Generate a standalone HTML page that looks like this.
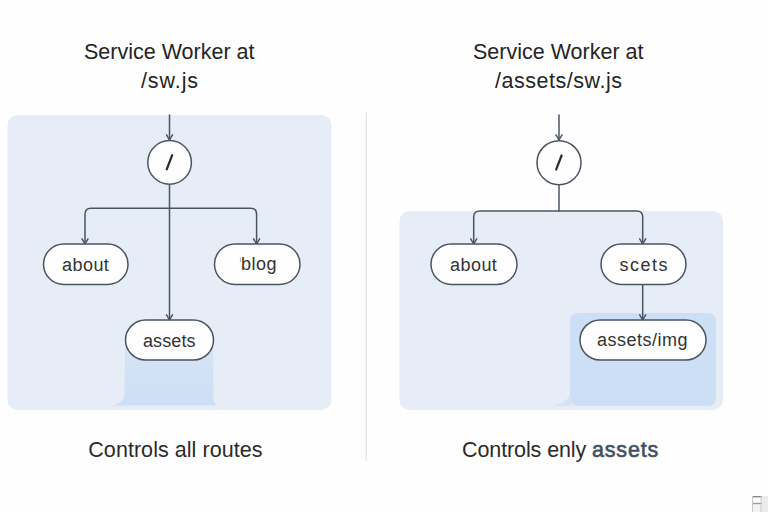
<!DOCTYPE html>
<html>
<head>
<meta charset="utf-8">
<style>
html,body{margin:0;padding:0;background:#fefefe;}
body{width:768px;height:512px;position:relative;overflow:hidden;font-family:"Liberation Sans",sans-serif;}
svg{position:absolute;left:0;top:0;}
.t{position:absolute;white-space:nowrap;color:#242424;line-height:1;}
.title{font-size:20.5px;letter-spacing:0.5px;line-height:28.5px;}
.pill{font-size:18px;color:#333;}
.cap{font-size:21.5px;color:#2a2a2a;}
.cap b{color:#405064;font-weight:normal;letter-spacing:0.8px;-webkit-text-stroke:0.6px #405064;}
</style>
</head>
<body>
<svg width="768" height="512" viewBox="0 0 768 512">
  <defs>
    <linearGradient id="g1" x1="0" y1="0" x2="0" y2="1">
      <stop offset="0" stop-color="#d8e5f6"/>
      <stop offset="1" stop-color="#cddff4"/>
    </linearGradient>
    <linearGradient id="g2" x1="0" y1="0" x2="1" y2="0">
      <stop offset="0" stop-color="#cddff4" stop-opacity="0"/>
      <stop offset="1" stop-color="#cddff4" stop-opacity="1"/>
    </linearGradient>
  </defs>
  <!-- divider -->
  <rect x="365.6" y="112" width="1.3" height="349" fill="#e4e4e4"/>
  <!-- left panel -->
  <rect x="7.5" y="115" width="324" height="295" rx="10" fill="#e6edf7"/>
  <path d="M125,336 L213,336 L213.5,398 Q214,404 218,405.5 L112,405.5 Q123,403 124.5,396 Z" fill="url(#g1)"/>
  <!-- right panel -->
  <rect x="399.5" y="211" width="323.5" height="199" rx="10" fill="#e6edf7"/>
  <rect x="570" y="313" width="146" height="93" rx="8" fill="#cddff4"/>

  <g fill="none" stroke="#4a5563" stroke-width="1.5" stroke-linecap="round" stroke-linejoin="round">
    <!-- left tree -->
    <line x1="169.5" y1="115" x2="169.5" y2="140"/>
    <path d="M166.5,134.8 L169.5,140 L172.5,134.8"/>
    <line x1="169.5" y1="185" x2="169.5" y2="320"/>
    <path d="M166.5,314.8 L169.5,320 L172.5,314.8"/>
    <path d="M85,244 L85,214.2 Q85,208.2 91,208.2 L250.6,208.2 Q256.6,208.2 256.6,214.2 L256.6,244"/>
    <path d="M82,238.8 L85,244 L88,238.8"/>
    <path d="M253.6,238.8 L256.6,244 L259.6,238.8"/>
    <circle cx="169.6" cy="162.4" r="21.8" fill="#fefefe"/>
    <rect x="43.5" y="244" width="84.5" height="40.5" rx="20.25" fill="#fefefe"/>
    <rect x="214.5" y="244" width="85.5" height="40.5" rx="20.25" fill="#fefefe"/>
    <rect x="125.5" y="320" width="88" height="40" rx="20" fill="#fefefe"/>

    <!-- right tree -->
    <line x1="559" y1="115" x2="559" y2="140"/>
    <path d="M556,134.8 L559,140 L562,134.8"/>
    <line x1="559" y1="185" x2="559" y2="211"/>
    <path d="M473.7,244 L473.7,217 Q473.7,211 479.7,211 L636.7,211 Q642.7,211 642.7,217 L642.7,244"/>
    <path d="M470.7,238.8 L473.7,244 L476.7,238.8"/>
    <path d="M639.7,238.8 L642.7,244 L645.7,238.8"/>
    <line x1="642.7" y1="284" x2="642.7" y2="320"/>
    <path d="M639.7,314.8 L642.7,320 L645.7,314.8"/>
    <circle cx="559" cy="162.7" r="22" fill="#fefefe"/>
    <rect x="431" y="244" width="86" height="40.5" rx="20.25" fill="#fefefe"/>
    <rect x="601" y="244" width="85" height="40.5" rx="20.25" fill="#fefefe"/>
    <rect x="580" y="320" width="126" height="40" rx="20" fill="#fefefe"/>
  </g>
  <!-- watermark -->
  <rect x="762" y="496" width="6" height="16" fill="#ececec"/>
  <rect x="752" y="504" width="10" height="8" fill="#f3f3f3"/>
  <rect x="752" y="496" width="10" height="1.4" fill="#888"/>
  <rect x="752" y="502.8" width="10" height="1.4" fill="#9a9a9a"/>
  <rect x="752" y="496" width="1" height="16" fill="#c8c8c8"/>
  <rect x="760.5" y="496" width="1" height="16" fill="#c8c8c8"/>
  <!-- flare right -->
  <path d="M552,406 Q566,404 570,394 L572,406 Z" fill="#d6e4f5"/>
  <line x1="240.3" y1="257.5" x2="240.6" y2="262" stroke="#9aa0a8" stroke-width="0.8"/>
  <rect x="361.3" y="113" width="0.8" height="347" fill="#f6f6f6"/>
  <!-- slashes -->
  <line x1="172.2" y1="155.2" x2="166.7" y2="169.3" stroke="#2a2a2a" stroke-width="2.2" stroke-linecap="round"/>
  <line x1="561.6" y1="155.5" x2="556.1" y2="169.6" stroke="#2a2a2a" stroke-width="2.2" stroke-linecap="round"/>
</svg>

<div class="t" id="t1" style="font-size:21.5px;letter-spacing:0px;left:84px;top:42.3px;">Service Worker at</div>
<div class="t" id="t2" style="font-size:21.5px;letter-spacing:0.9px;left:141px;top:71.3px;">/sw.js</div>
<div class="t" id="t3" style="font-size:21.5px;letter-spacing:0px;left:473px;top:42.3px;">Service Worker at</div>
<div class="t" id="t4" style="font-size:21.5px;letter-spacing:0.53px;left:495px;top:71.3px;">/assets/sw.js</div>

<div class="t pill" id="p1" style="letter-spacing:0.45px;left:62px;top:255.8px;">about</div>
<div class="t pill" id="p2" style="letter-spacing:0.5px;left:241px;top:255.3px;">blog</div>
<div class="t pill" id="p3" style="letter-spacing:0.1px;left:143px;top:331.5px;">assets</div>
<div class="t pill" id="p4" style="letter-spacing:0.45px;left:450px;top:255.5px;">about</div>
<div class="t pill" id="p5" style="letter-spacing:1.5px;left:619.5px;top:255.5px;">scets</div>
<div class="t pill" id="p6" style="letter-spacing:0.5px;left:597px;top:330.8px;">assets/img</div>

<div class="t cap" id="c1" style="letter-spacing:0.05px;left:88.3px;top:439.8px;">Controls all routes</div>
<div class="t cap" id="c2" style="letter-spacing:-0.1px;left:462px;top:439.8px;">Controls enly <b>assets</b></div>
</body>
</html>
